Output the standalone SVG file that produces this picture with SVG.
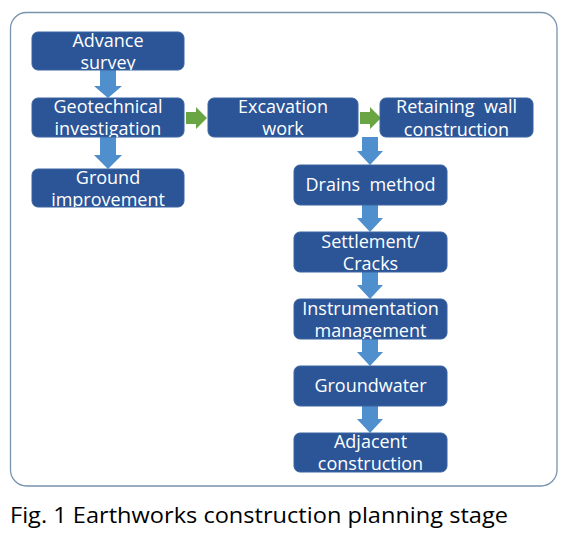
<svg xmlns="http://www.w3.org/2000/svg" width="577" height="541" viewBox="0 0 577 541">
<style>
.box{fill:#2b5597;stroke:#3a64a0;stroke-width:1}
.t{font-family:"Open Sans","Noto Sans",sans-serif;font-size:18px;fill:#ffffff;text-anchor:middle}
.ab{fill:#4f8fcd}
.ag{fill:#6aa544}
.cap{font-family:"Open Sans","Noto Sans",sans-serif;font-size:22px;fill:#000000}
</style>
<defs>
<clipPath id="c1"><rect x="32" y="32" width="152" height="38" rx="6"/></clipPath>
<clipPath id="c2"><rect x="32" y="98" width="152" height="39" rx="6"/></clipPath>
<clipPath id="c3"><rect x="32" y="169" width="152" height="38" rx="6"/></clipPath>
<clipPath id="c4"><rect x="208" y="98" width="150" height="39" rx="6"/></clipPath>
<clipPath id="c5"><rect x="380" y="98" width="153" height="39" rx="6"/></clipPath>
<clipPath id="c7"><rect x="294" y="232" width="153" height="40" rx="6"/></clipPath>
<clipPath id="c8"><rect x="294" y="299" width="153" height="40" rx="6"/></clipPath>
<clipPath id="c10"><rect x="294" y="433" width="153" height="39" rx="6"/></clipPath>
</defs>
<rect x="10.5" y="12.5" width="546.5" height="473.5" rx="16" fill="#ffffff" stroke="#7893ad" stroke-width="1.3"/>
<g id="connectors">
<path class="ab" d="M100,70 H116 V86 H122 L108,98 L94,86 H100 Z"/>
<path class="ab" d="M100,137 H116 V155 H122 L108,169 L94,155 H100 Z"/>
<path class="ab" d="M362,137 H378 V151 H383 L370,165 L357,151 H362 Z"/>
<path class="ab" d="M362,205 H378 V218 H383 L370,232 L357,218 H362 Z"/>
<path class="ab" d="M362,272 H378 V285 H383 L370,299 L357,285 H362 Z"/>
<path class="ab" d="M362,339 H378 V352 H383 L370,366 L357,352 H362 Z"/>
<path class="ab" d="M362,406 H378 V419 H383 L370,433 L357,419 H362 Z"/>
<path class="ag" d="M186,112 H196 V107 L207,118 L196,129 V124 H186 Z"/>
<path class="ag" d="M360,112 H370 V107 L381,118 L370,129 V124 H360 Z"/>
</g>
<g id="n1"><rect class="box" x="32" y="32" width="152" height="38" rx="6"/>
<g clip-path="url(#c1)"><text class="t" x="108" y="47">Advance</text><text class="t" x="108" y="69">survey</text></g></g>
<g id="n2"><rect class="box" x="32" y="98" width="152" height="39" rx="6"/>
<g clip-path="url(#c2)"><text class="t" x="108" y="113">Geotechnical</text><text class="t" x="108" y="135">investigation</text></g></g>
<g id="n3"><rect class="box" x="32" y="169" width="152" height="38" rx="6"/>
<g clip-path="url(#c3)"><text class="t" x="108" y="184">Ground</text><text class="t" x="108" y="206">improvement</text></g></g>
<g id="n4"><rect class="box" x="208" y="98" width="150" height="39" rx="6"/>
<g clip-path="url(#c4)"><text class="t" x="283" y="113">Excavation</text><text class="t" x="283" y="135">work</text></g></g>
<g id="n5"><rect class="box" x="380" y="98" width="153" height="39" rx="6"/>
<g clip-path="url(#c5)"><text class="t" x="456.5" y="113" xml:space="preserve">Retaining  wall</text><text class="t" x="456.5" y="136">construction</text></g></g>
<g id="n6"><rect class="box" x="294" y="165" width="153" height="40" rx="6"/>
<text class="t" x="370.5" y="191" xml:space="preserve">Drains  method</text></g>
<g id="n7"><rect class="box" x="294" y="232" width="153" height="40" rx="6"/>
<g clip-path="url(#c7)"><text class="t" x="370.5" y="248">Settlement/</text><text class="t" x="370.5" y="270">Cracks</text></g></g>
<g id="n8"><rect class="box" x="294" y="299" width="153" height="40" rx="6"/>
<g clip-path="url(#c8)"><text class="t" x="370.5" y="315">Instrumentation</text><text class="t" x="370.5" y="337">management</text></g></g>
<g id="n9"><rect class="box" x="294" y="366" width="153" height="40" rx="6"/>
<text class="t" x="370.5" y="392">Groundwater</text></g>
<g id="n10"><rect class="box" x="294" y="433" width="153" height="39" rx="6"/>
<g clip-path="url(#c10)"><text class="t" x="370.5" y="448">Adjacent</text><text class="t" x="370.5" y="470">construction</text></g></g>
<text class="cap" x="10" y="523" textLength="498" lengthAdjust="spacingAndGlyphs">Fig. 1 Earthworks construction planning stage</text>
</svg>
